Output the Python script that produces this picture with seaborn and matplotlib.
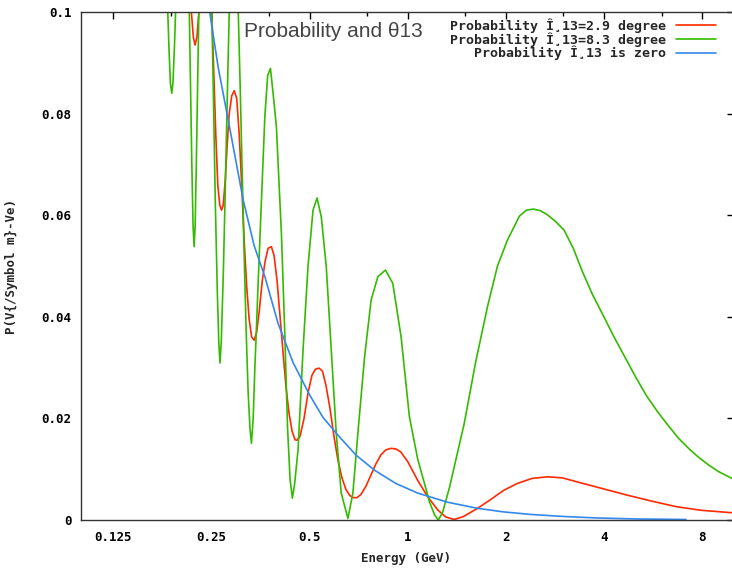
"""Probability and theta13 - oscillation probability vs energy"""
import pandas as pd
import matplotlib
matplotlib.use('Agg')
import matplotlib.pyplot as plt
import matplotlib.ticker as mticker
import seaborn as sns

# 读取自图中的数据 (能量 GeV, 概率)
green_e = [0.1828, 0.1854, 0.1873, 0.1891, 0.1907, 0.1927, 0.1954, 0.2039, 0.2134, 0.2156,
           0.2179, 0.2198, 0.2214, 0.2231, 0.2249, 0.2273, 0.2297, 0.2396, 0.2500, 0.2535,
           0.2571, 0.2608, 0.2636, 0.2658, 0.2682, 0.2720, 0.2759, 0.2798, 0.2837, 0.2878,
           0.2929, 0.2981, 0.3024, 0.3066, 0.3110, 0.3153, 0.3198, 0.3243, 0.3285, 0.3319,
           0.3360, 0.3400, 0.3439, 0.3479, 0.3562, 0.3648, 0.3721, 0.3795, 0.3867, 0.3958,
           0.4034, 0.4100, 0.4199, 0.4283, 0.4359, 0.4430, 0.4499, 0.4611, 0.4777, 0.4947,
           0.5125, 0.5273, 0.5433, 0.5627, 0.5829, 0.6038, 0.6254, 0.6557, 0.6791, 0.7034,
           0.7374, 0.7724, 0.8097, 0.8547, 0.8998, 0.9540, 1.012, 1.073, 1.111, 1.167,
           1.209, 1.241, 1.279, 1.344, 1.412, 1.490, 1.614, 1.756, 1.884, 2.021,
           2.199, 2.310, 2.427, 2.550, 2.678, 2.834, 3.012, 3.216, 3.426, 3.676,
           3.992, 4.292, 4.637, 5.011, 5.413, 5.850, 6.321, 6.781, 7.342, 7.805,
           8.375, 8.985, 10.0]
green_p = [0.105, 0.093, 0.086, 0.084, 0.086, 0.093, 0.105, 0.130, 0.105, 0.088,
           0.070, 0.058, 0.0538, 0.058, 0.070, 0.088, 0.105, 0.130, 0.105, 0.085,
           0.063, 0.045, 0.035, 0.0309, 0.035, 0.048, 0.065, 0.083, 0.100, 0.115,
           0.120, 0.115, 0.100, 0.085, 0.068, 0.052, 0.037, 0.025, 0.018, 0.0151,
           0.020, 0.030, 0.038, 0.0466, 0.063, 0.0794, 0.0875, 0.0889, 0.084, 0.0774,
           0.066, 0.0565, 0.0368, 0.018, 0.008, 0.0043, 0.007, 0.0138, 0.0335, 0.0499,
           0.061, 0.0634, 0.0597, 0.0499, 0.0335, 0.0171, 0.0053, 0.0003, 0.0053, 0.0171,
           0.0321, 0.0433, 0.0479, 0.0492, 0.0466, 0.0361, 0.0203, 0.012, 0.0085, 0.0035,
           0.001, 0.0, 0.0015, 0.0065, 0.0125, 0.019, 0.031, 0.042, 0.050, 0.0551,
           0.0598, 0.061, 0.0612, 0.0609, 0.0601, 0.0588, 0.0571, 0.0535, 0.049, 0.0445,
           0.040, 0.036, 0.032, 0.028, 0.0243, 0.0212, 0.0184, 0.016, 0.0138, 0.0123,
           0.0108, 0.0095, 0.0080]

red_e = [0.2127, 0.2172, 0.2203, 0.2229, 0.2258, 0.2290, 0.2396, 0.2509, 0.2544, 0.2580,
         0.2617, 0.2654, 0.2688, 0.2720, 0.2759, 0.2798, 0.2837, 0.2888, 0.2940, 0.2991,
         0.3044, 0.3098, 0.3153, 0.3209, 0.3266, 0.3324, 0.3383, 0.3444, 0.3505, 0.3581,
         0.3656, 0.3734, 0.3822, 0.3895, 0.3978, 0.4062, 0.4148, 0.4238, 0.4328, 0.4420,
         0.4515, 0.4579, 0.4677, 0.4811, 0.4947, 0.5087, 0.5215, 0.5347, 0.5479, 0.5616,
         0.5776, 0.5941, 0.6110, 0.6287, 0.6464, 0.6649, 0.6815, 0.6984, 0.7184, 0.7438,
         0.7708, 0.7984, 0.8270, 0.8565, 0.8870, 0.919, 0.9519, 1.0, 1.073, 1.151,
         1.235, 1.307, 1.389, 1.483, 1.637, 1.793, 1.975, 2.168, 2.410, 2.678,
         2.977, 3.308, 3.944, 4.703, 5.607, 6.686, 7.973, 10.0]
red_p = [0.115, 0.100, 0.095, 0.0935, 0.095, 0.100, 0.115, 0.100, 0.088, 0.076,
         0.066, 0.062, 0.061, 0.062, 0.067, 0.074, 0.080, 0.0835, 0.0845, 0.083,
         0.076, 0.066, 0.055, 0.046, 0.0395, 0.036, 0.0354, 0.037, 0.041, 0.047,
         0.051, 0.0535, 0.0538, 0.052, 0.047, 0.040, 0.033, 0.026, 0.021, 0.0175,
         0.0158, 0.0157, 0.0165, 0.020, 0.025, 0.0285, 0.0297, 0.0299, 0.0293, 0.0265,
         0.022, 0.0165, 0.0118, 0.0083, 0.006, 0.0048, 0.0044, 0.0044, 0.005, 0.0066,
         0.0088, 0.011, 0.0128, 0.0138, 0.0141, 0.014, 0.0134, 0.0115, 0.0078, 0.0046,
         0.002, 0.0006, 0.0001, 0.0007, 0.0023, 0.004, 0.0059, 0.0072, 0.0082, 0.0085,
         0.0083, 0.0075, 0.0062, 0.0049, 0.0037, 0.0026, 0.0019, 0.0014]

blue_e = [0.2400, 0.2465, 0.2626, 0.2818, 0.3131, 0.3383, 0.3649, 0.4005, 0.4452, 0.5006,
          0.5498, 0.6110, 0.6935, 0.7911, 0.919, 1.073, 1.325, 1.637, 1.965, 2.376,
          2.998, 3.808, 5.047, 7.12]
blue_p = [0.106, 0.1005, 0.089, 0.0787, 0.063, 0.054, 0.0479, 0.0387, 0.031, 0.0246,
          0.0202, 0.0167, 0.0128, 0.0098, 0.0072, 0.0053, 0.0035, 0.0023, 0.0016, 0.0011,
          0.0007, 0.0004, 0.0002, 0.0001]

labels = ['Probability Î¸13=2.9 degree',
          'Probability Î¸13=8.3 degree',
          'Probability Î¸13 is zero']
colors = ['#ff2a00', '#33bb00', '#3388ee']

x_ticks = [0.125, 0.25, 0.5, 1, 2, 4, 8]
x_ticklabels = ['0.125', '0.25', '0.5', '1', '2', '4', '8']
y_ticks = [0, 0.02, 0.04, 0.06, 0.08, 0.1]
y_ticklabels = ['0', '0.02', '0.04', '0.06', '0.08', '0.1']

sns.set_theme(style='white')
plt.rcParams['font.family'] = ['DejaVu Sans Mono', 'DejaVu Sans']

fig = plt.figure(figsize=(7.32, 5.72), dpi=100)
# 右边界略超出图片 (原图被裁切)
ax = fig.add_axes([0.1113, 0.0909, 0.8914, 0.8881])

series = [(red_e, red_p), (green_e, green_p), (blue_e, blue_p)]
for (e, p), lab, c in zip(series, labels, colors):
    df = pd.DataFrame({'Energy': e, 'P': p})
    sns.lineplot(data=df, x='Energy', y='P', ax=ax, color=c, linewidth=1.2,
                 label=lab, estimator=None, sort=False)

# 对数坐标 (底数2)
ax.set_xscale('log', base=2)
ax.set_xlim(0.1, 10)
ax.set_ylim(0, 0.1)
ax.set_xticks(x_ticks)
ax.set_xticklabels(x_ticklabels)
ax.xaxis.set_minor_locator(mticker.LogLocator(base=2, subs=(1.5,)))
ax.xaxis.set_minor_formatter(mticker.NullFormatter())
ax.set_yticks(y_ticks)
ax.set_yticklabels(y_ticklabels)

ax.tick_params(axis='both', which='both', direction='in', top=True, right=True,
               colors='black', labelsize=9)
ax.tick_params(axis='both', which='major', length=5, width=1)
ax.tick_params(axis='x', which='major', pad=8)
ax.tick_params(axis='y', which='major', pad=7)
ax.tick_params(axis='x', which='minor', length=3, width=1)
for t in ax.get_xticklabels() + ax.get_yticklabels():
    t.set_fontweight('bold')
for s in ax.spines.values():
    s.set_color('#333333')
    s.set_linewidth(1)

ax.set_xlabel('Energy (GeV)', fontsize=9, fontweight='bold')
ax.set_ylabel('P(V{/Symbol m}-Ve)', fontsize=9, fontweight='bold')
ax.xaxis.set_label_coords(0.497, -0.063)
ax.yaxis.set_label_coords(-0.098, 0.5)

ax.text(0.249, 0.962, 'Probability and θ13', transform=ax.transAxes,
        fontsize=15, color='#444444', family=['Liberation Sans', 'DejaVu Sans'],
        ha='left', va='center')

leg = ax.legend(loc='upper right', bbox_to_anchor=(0.9764, 0.993), borderaxespad=0,
                frameon=False, markerfirst=False, handlelength=3, handletextpad=0.75,
                labelspacing=-0.05, borderpad=0.2,
                prop={'size': 9.5, 'weight': 'bold'})

fig.savefig('out.png', dpi=100)
